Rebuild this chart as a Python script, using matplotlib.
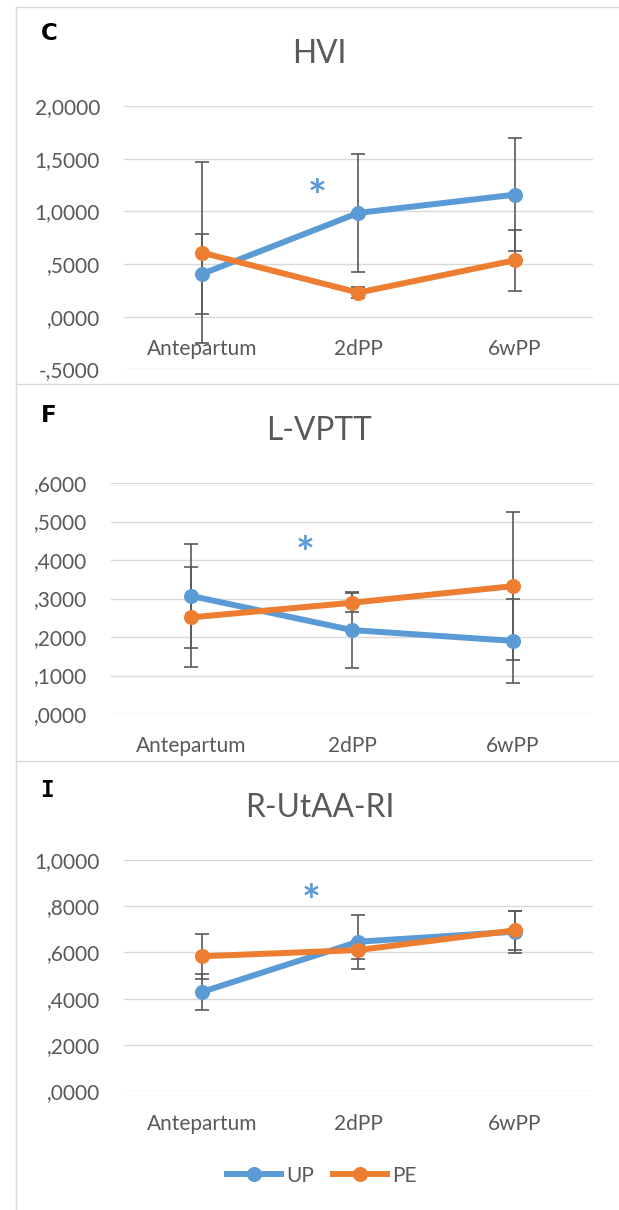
import matplotlib
matplotlib.use("Agg")
import matplotlib.pyplot as plt
from matplotlib.lines import Line2D
from matplotlib.ticker import FuncFormatter, MultipleLocator

# ---- data -------------------------------------------------------------
timepoints = ["Antepartum", "2dPP", "6wPP"]
groups = ["UP", "PE"]

hvi_up = [0.405, 0.985, 1.158]
hvi_up_sd = [0.376, 0.558, 0.539]
hvi_pe = [0.608, 0.228, 0.535]
hvi_pe_sd = [0.862, 0.055, 0.290]

lvptt_up = [0.3065, 0.218, 0.190]
lvptt_up_sd = [0.136, 0.098, 0.109]
lvptt_pe = [0.251, 0.289, 0.332]
lvptt_pe_sd = [0.130, 0.025, 0.193]

rutaa_up = [0.429, 0.646, 0.689]
rutaa_up_sd = [0.079, 0.116, 0.090]
rutaa_pe = [0.583, 0.610, 0.695]
rutaa_pe_sd = [0.097, 0.040, 0.085]

# ---- style ------------------------------------------------------------
W, H, DPI = 619, 1210, 100
BLUE = "#5B9BD5"
ORANGE = "#ED7D31"
TXT = "#595959"
GRID = "#D9D9D9"
ERR = "#595959"
FONT = "Lato"
TICK_FS = 15
TITLE_FS = 22.8

plt.rcParams["font.family"] = [FONT, "DejaVu Sans"]

fig = plt.figure(figsize=(W / DPI, H / DPI), dpi=DPI)


def fx(px):
    return px / W


def fy(py):
    return 1 - py / H


def comma_fmt(v, _pos=None):
    s = f"{abs(v):.4f}".replace(".", ",")
    if abs(v) < 1:
        s = s[1:]
    return ("-" if v < -1e-9 else "") + s


def panel(box, ylim, step, up, up_sd, pe, pe_sd, star_xy, x_at_zero=False):
    left, right, top, bottom = box
    ax = fig.add_axes([fx(left), fy(bottom), fx(right - left), (bottom - top) / H])
    x = list(range(len(timepoints)))
    for mean, sd in ((up, up_sd), (pe, pe_sd)):
        ax.errorbar(x, mean, yerr=sd, fmt="none", ecolor=ERR, elinewidth=1.2,
                    capsize=4.8, capthick=1.2, zorder=2)
    ax.plot(x, up, color=BLUE, lw=4.3, marker="o", ms=9.8, zorder=3,
            solid_capstyle="round")
    ax.plot(x, pe, color=ORANGE, lw=4.3, marker="o", ms=9.8, zorder=4,
            solid_capstyle="round")
    ax.set_xlim(-0.5, len(timepoints) - 0.5)
    ax.set_ylim(*ylim)
    ax.yaxis.set_major_locator(MultipleLocator(step))
    ax.yaxis.set_major_formatter(FuncFormatter(comma_fmt))
    ax.set_xticks(x)
    ax.set_xticklabels(timepoints)
    ax.grid(axis="y", color=GRID, lw=1.0)
    ax.set_axisbelow(True)
    for s in ax.spines.values():
        s.set_visible(False)
    if x_at_zero:
        ax.spines["bottom"].set_position(("data", 0))
    ax.tick_params(axis="both", length=0, labelsize=TICK_FS, colors=TXT)
    ax.tick_params(axis="x", pad=16)
    ax.tick_params(axis="y", pad=17)
    ax.text(star_xy[0], star_xy[1], "*", color=BLUE, fontsize=32,
            fontweight="bold", ha="center", va="baseline",
            transform=ax.transData)
    return ax


panel((123.7, 593, 106, 369.3), (-0.5, 2.0), 0.5,
      hvi_up, hvi_up_sd, hvi_pe, hvi_pe_sd, (0.74, 1.00), x_at_zero=True)
panel((111, 593, 483, 714), (0.0, 0.6), 0.1,
      lvptt_up, lvptt_up_sd, lvptt_pe, lvptt_pe_sd, (0.71, 0.38))
panel((123.7, 593, 859.7, 1091.3), (0.0, 1.0), 0.2,
      rutaa_up, rutaa_up_sd, rutaa_pe, rutaa_pe_sd, (0.70, 0.755))

# titles and panel letters
for title, base in (("HVI", 62.7), ("L-VPTT", 440), ("R-UtAA-RI", 816.7)):
    fig.text(fx(319.5), fy(base), title, fontsize=TITLE_FS, color=TXT,
             ha="center", va="baseline")
fig.text(fx(40.5), fy(40), "C", fontsize=16.5, fontweight="bold",
         family="DejaVu Sans", ha="left", va="baseline")
fig.text(fx(40.5), fy(421.7), "F", fontsize=16.5, fontweight="bold",
         family="DejaVu Sans", ha="left", va="baseline")
fig.text(fx(40.5), fy(796.7), "I", fontsize=16.5, fontweight="bold",
         family="DejaVu Sans Mono", ha="left", va="baseline")

# chart frames
frame_kw = dict(color=GRID, lw=1.0, transform=fig.transFigure)
fig.add_artist(Line2D([fx(16), 1], [fy(6.7), fy(6.7)], **frame_kw))
fig.add_artist(Line2D([fx(16), fx(16)], [fy(6.7), 0], **frame_kw))
fig.add_artist(Line2D([fx(16), 1], [fy(384), fy(384)], **frame_kw))
fig.add_artist(Line2D([fx(16), 1], [fy(760.5), fy(760.5)], **frame_kw))

# legend
handles = [Line2D([], [], color=c, lw=4.3, marker="o", ms=9.8)
           for c in (BLUE, ORANGE)]
fig.legend(handles, groups, loc="center", bbox_to_anchor=(fx(322), fy(1175.7)),
           ncol=2, frameon=False, fontsize=TICK_FS, labelcolor=TXT,
           handlelength=2.6, handletextpad=0.25, columnspacing=0.9)

fig.savefig("out.png", dpi=DPI)
